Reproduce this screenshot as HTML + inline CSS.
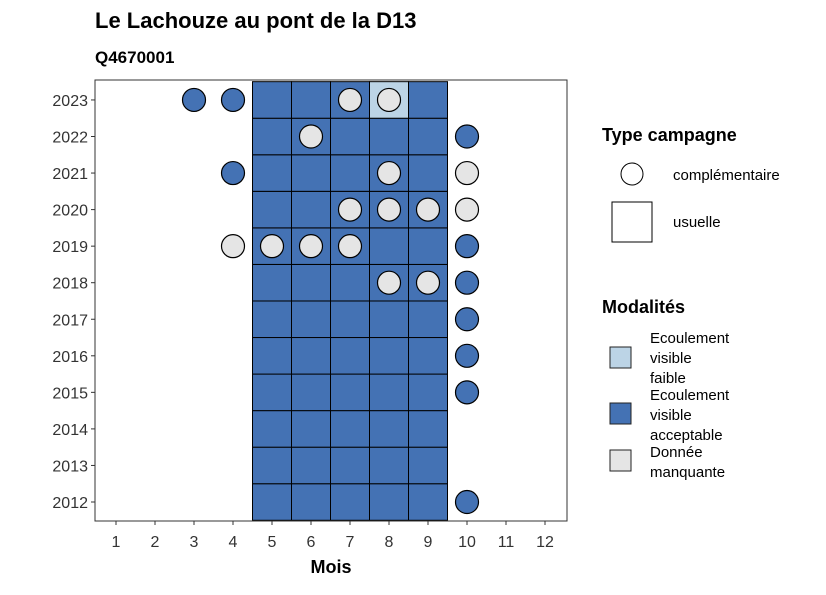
<!DOCTYPE html>
<html><head><meta charset="utf-8"><style>
body{margin:0;background:#fff;font-family:"Liberation Sans",sans-serif}
svg text{font-family:"Liberation Sans",sans-serif}
</style></head><body>
<svg id="c" width="826" height="590" xmlns="http://www.w3.org/2000/svg">
<text x="95" y="28" font-size="22" font-weight="bold">Le Lachouze au pont de la D13</text>
<text x="95" y="63" font-size="17" font-weight="bold">Q4670001</text>
<g id="plot"></g>
<rect x="95" y="80" width="472" height="441" fill="none" stroke="#333" stroke-width="1"/>
<text x="331" y="573" font-size="18" font-weight="bold" text-anchor="middle">Mois</text>
<g>
<text x="602" y="141" font-size="18" font-weight="bold">Type campagne</text>
<circle cx="632" cy="174" r="11" fill="#fff" stroke="#000"/>
<text x="673" y="180" font-size="15">complémentaire</text>
<rect x="612" y="202" width="40" height="40" fill="#fff" stroke="#000"/>
<text x="673" y="227" font-size="15">usuelle</text>
</g>
<g>
<text x="602" y="313" font-size="18" font-weight="bold">Modalités</text>
<rect x="610" y="347" width="21" height="21" fill="#bcd4e6" stroke="#222"/>
<text font-size="15"><tspan x="650" y="343">Ecoulement</tspan><tspan x="650" y="363">visible</tspan><tspan x="650" y="383">faible</tspan></text>
<rect x="610" y="403" width="21" height="21" fill="#4472b4" stroke="#222"/>
<text font-size="15"><tspan x="650" y="400">Ecoulement</tspan><tspan x="650" y="420">visible</tspan><tspan x="650" y="440">acceptable</tspan></text>
<rect x="610" y="450" width="21" height="21" fill="#e5e5e5" stroke="#222"/>
<text font-size="15"><tspan x="650" y="457">Donnée</tspan><tspan x="650" y="477">manquante</tspan></text>
</g>
</svg>
<script>
const months=[1,2,3,4,5,6,7,8,9,10,11,12];
const years=[2012,2013,2014,2015,2016,2017,2018,2019,2020,2021,2022,2023];
const tileMonths=[5,6,7,8,9];
const tileFaible=[[2023,8]];
// circles: [year, month, type] b=acceptable g=manquante
const circles=[[2023,3,'b'],[2023,4,'b'],[2023,7,'g'],[2023,8,'g'],
[2022,6,'g'],[2022,10,'b'],
[2021,4,'b'],[2021,8,'g'],[2021,10,'g'],
[2020,7,'g'],[2020,8,'g'],[2020,9,'g'],[2020,10,'g'],
[2019,4,'g'],[2019,5,'g'],[2019,6,'g'],[2019,7,'g'],[2019,10,'b'],
[2018,8,'g'],[2018,9,'g'],[2018,10,'b'],
[2017,10,'b'],[2016,10,'b'],[2015,10,'b'],[2012,10,'b']];
const X=m=>116+(m-1)*39, Y=y=>502-(y-2012)*36.55, W=39, H=36.55;
const NS="http://www.w3.org/2000/svg", g=document.getElementById('plot');
function mk(t,a){const e=document.createElementNS(NS,t);for(const k in a)e.setAttribute(k,a[k]);g.appendChild(e);return e;}
years.forEach(y=>tileMonths.forEach(m=>{
 const f=tileFaible.some(t=>t[0]===y&&t[1]===m);
 const r=mk('rect',{x:X(m)-W/2,y:Y(y)-H/2,width:W,height:H,fill:f?'#bcd4e6':'#4472b4',stroke:'#000','stroke-width':1});
 
 
}));
circles.forEach(c=>{
 const e=mk('circle',{cx:X(c[1]),cy:Y(c[0]),r:11.5,fill:c[2]==='b'?'#4472b4':'#e5e5e5',stroke:'#000','stroke-width':1.2});
 
 
});
months.forEach(m=>{
 mk('line',{x1:X(m),x2:X(m),y1:521,y2:525,stroke:'#333'});
 const t=mk('text',{x:X(m),y:547,'font-size':16,'text-anchor':'middle',fill:'#333'});t.textContent=m;
 
 
});
years.forEach(y=>{
 mk('line',{x1:91,x2:95,y1:Y(y),y2:Y(y),stroke:'#333'});
 const t=mk('text',{x:88,y:Y(y)+6,'font-size':16,'text-anchor':'end',fill:'#333'});t.textContent=y;
 
 
});
</script>
</body></html>
